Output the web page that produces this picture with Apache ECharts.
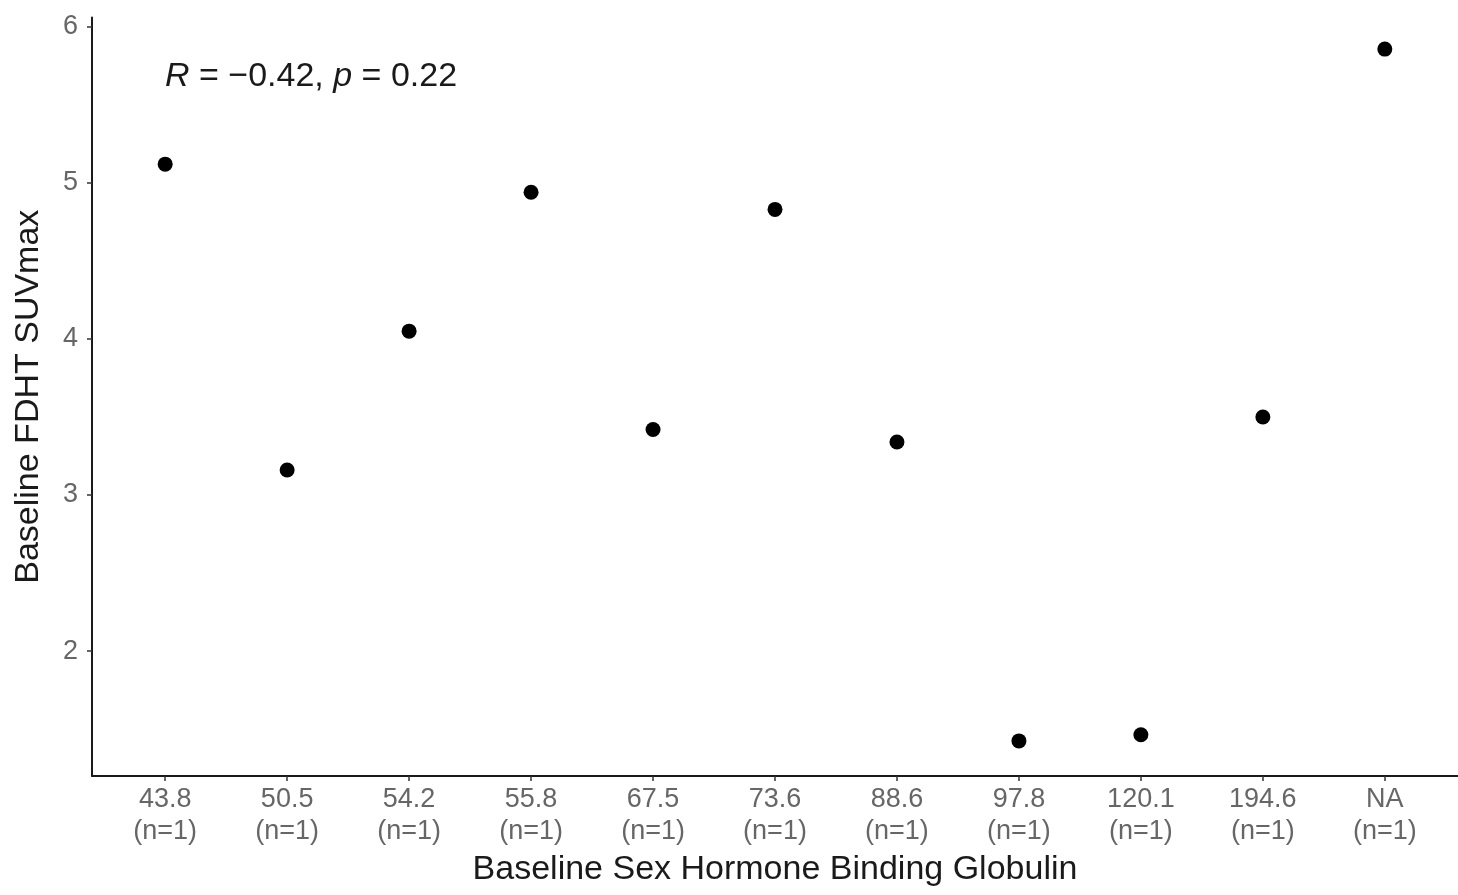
<!DOCTYPE html>
<html>
<head>
<meta charset="utf-8">
<script src="https://cdn.jsdelivr.net/npm/echarts@6/dist/echarts.min.js"></script>
<style>
html,body{margin:0;padding:0;background:#fff;}
#chart{width:1458px;height:895px;}
</style>
</head>
<body>
<div id="chart"></div>
<script>
const categories = ['43.8','50.5','54.2','55.8','67.5','73.6','88.6','97.8','120.1','194.6','NA'];
const counts = [1,1,1,1,1,1,1,1,1,1,1];
const suvmax = [5.12, 3.16, 4.05, 4.94, 3.42, 4.83, 3.34, 1.425, 1.464, 3.50, 5.857];
const yTicks = [2, 3, 4, 5, 6];
const annotation = {R: '\u22120.42', p: '0.22'};

const FONT = '"Liberation Sans", Arial, sans-serif';
const xIdx = categories.map((c, i) => i);

const chart = echarts.init(document.getElementById('chart'), null, {renderer: 'canvas'});
chart.setOption({
  backgroundColor: '#ffffff',
  animation: false,
  grid: {left: 92, right: 0, top: 17.4, bottom: 119, containLabel: false},
  xAxis: {
    type: 'value',
    min: -0.6, max: 10.6,
    name: 'Baseline Sex Hormone Binding Globulin',
    nameLocation: 'middle',
    nameGap: 74,
    nameTextStyle: {fontFamily: FONT, fontSize: 34, color: '#1a1a1a'},
    axisLine: {show: true, onZero: false, lineStyle: {color: '#1a1a1a', width: 2}},
    axisTick: {show: true, length: 5, customValues: xIdx, lineStyle: {color: '#333', width: 1.5}},
    axisLabel: {
      customValues: xIdx,
      margin: 8,
      fontFamily: FONT, fontSize: 27, color: '#666666', lineHeight: 32,
      formatter: v => categories[Math.round(v)] + '\n(n=' + counts[Math.round(v)] + ')'
    },
    splitLine: {show: false}
  },
  yAxis: {
    type: 'value',
    min: 1.2, max: 6.06,
    name: 'Baseline FDHT SUVmax',
    nameLocation: 'middle',
    nameGap: 46,
    nameTextStyle: {fontFamily: FONT, fontSize: 34, color: '#1a1a1a'},
    axisLine: {show: true, onZero: false, lineStyle: {color: '#1a1a1a', width: 2}},
    axisTick: {show: true, length: 5, customValues: yTicks, lineStyle: {color: '#333', width: 1.5}},
    axisLabel: {customValues: yTicks, margin: 14, padding: [4, 0, 0, 0], fontFamily: FONT, fontSize: 27, color: '#666666'},
    splitLine: {show: false}
  },
  graphic: [{
    type: 'text',
    left: 165, top: 60,
    style: {
      text: '{i|R} = ' + annotation.R + ', {i|p} = ' + annotation.p,
      fontFamily: FONT, fontSize: 34, fill: '#1a1a1a',
      rich: {i: {fontStyle: 'italic', fontFamily: FONT, fontSize: 34, color: '#1a1a1a'}}
    }
  }],
  series: [{
    type: 'scatter',
    symbol: 'circle',
    symbolSize: 15,
    itemStyle: {color: '#000000', opacity: 1},
    data: xIdx.map(i => [i, suvmax[i]])
  }]
});
</script>
</body>
</html>
